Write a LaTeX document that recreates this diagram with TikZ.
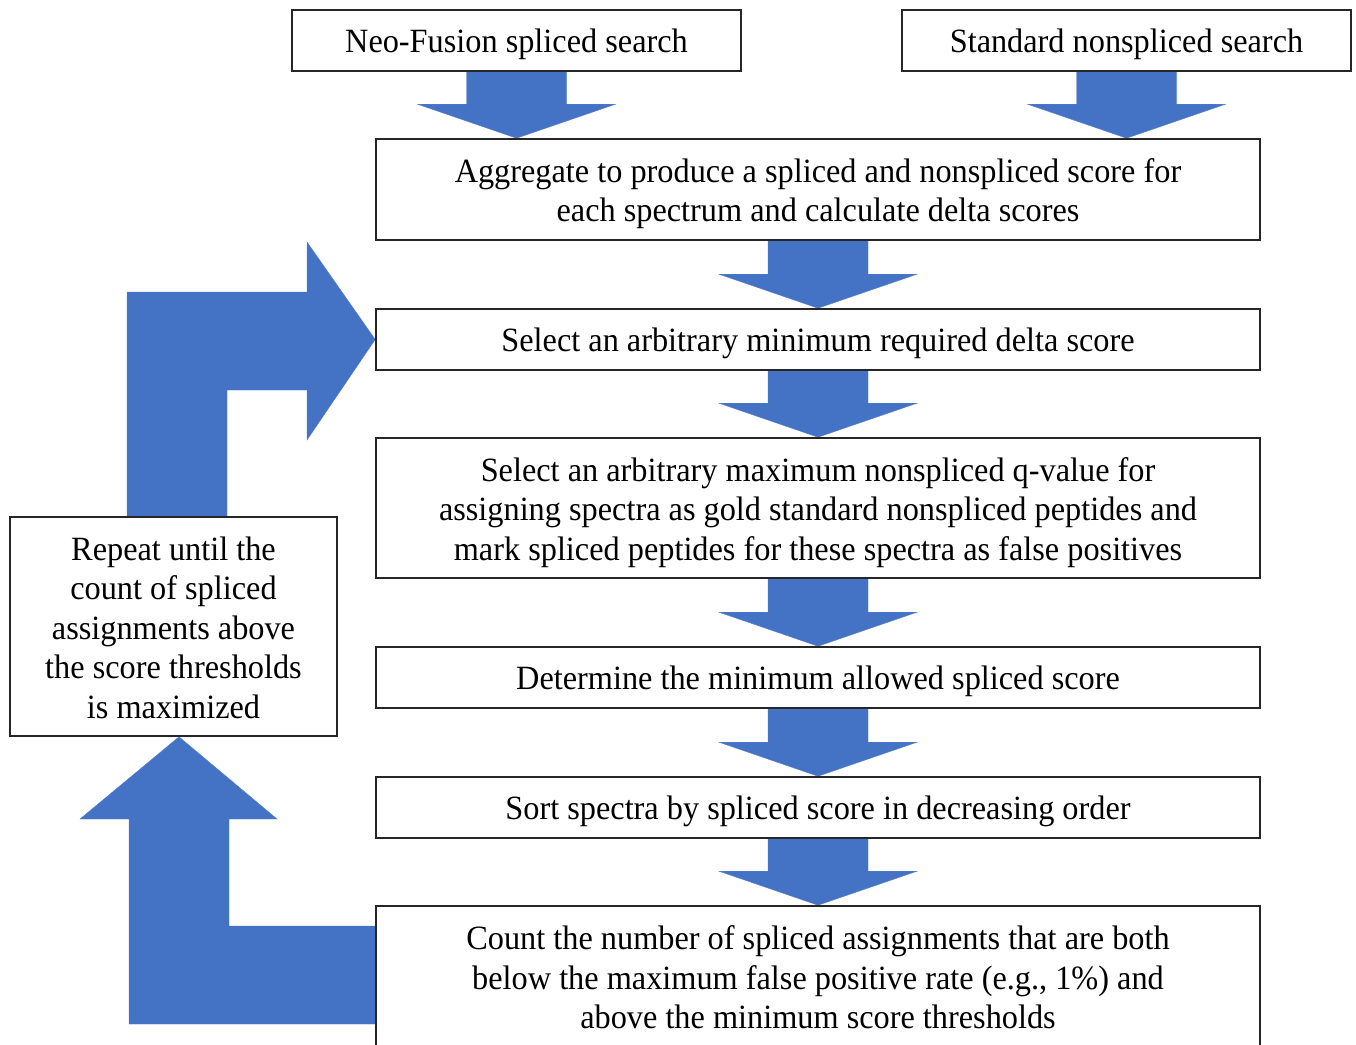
\documentclass[tikz,border=0pt]{standalone}
\usepackage{fontspec}
\setmainfont{Liberation Serif}[FakeStretch=0.95]
\usetikzlibrary{calc}
\definecolor{arrowblue}{HTML}{4472C4}
\pgfdeclarelayer{background}
\pgfsetlayers{background,main}
\tikzset{
  frame/.style={draw=black!85, line width=1.6pt, fill=white, inner sep=0pt},
  label text/.style={align=center, inner sep=0pt, font=\fontsize{34}{39.5}\selectfont},
  arr/.style={fill=arrowblue, draw=arrowblue!90, line width=0.4pt},
}
% #1 name, #2 center, #3 width, #4 height, #5 text shift, #6 text
\newcommand\flowbox[6]{%
  \node[frame, minimum width=#3, minimum height=#4] (#1) at (#2) {};
  \node[label text] (#1-t) at ($(#1.center)+(0,-#5)$) {#6};
}
\newcommand\blockdown[2]{%
  \path (#1.south) coordinate (s) (#1.south |- #2.north) coordinate (t);
  \filldraw[arr] ($(s)+(-50,0)$) -- ($(t)+(-50,34)$) -- ($(t)+(-99,34)$) -- (t)
    -- ($(t)+(99,34)$) -- ($(t)+(50,34)$) -- ($(s)+(50,0)$) -- cycle;
}
\begin{document}
\begin{tikzpicture}[x=1pt,y=1pt]
\clip (0,0) rectangle (1356,-1044);
\begin{pgfonlayer}{background}
\fill[white] (0,0) rectangle (1356,-1044);
\end{pgfonlayer}

\flowbox{neo}{516.5,-40.5}{449pt}{61pt}{4}{Neo-Fusion spliced search}
\flowbox{std}{1126.5,-40.5}{449pt}{61pt}{4}{Standard nonspliced search}
\flowbox{agg}{818,-189.5}{884pt}{101pt}{4}{Aggregate to produce a spliced and nonspliced score for\\each spectrum and calculate delta scores}
\flowbox{sel}{818,-339.5}{884pt}{61pt}{4}{Select an arbitrary minimum required delta score}
\flowbox{qv}{818,-508}{884pt}{140pt}{4.5}{Select an arbitrary maximum nonspliced q-value for\\assigning spectra as gold standard nonspliced peptides and\\mark spliced peptides for these spectra as false positives}
\flowbox{det}{818,-677.5}{884pt}{61pt}{4}{Determine the minimum allowed spliced score}
\flowbox{sort}{818,-807.5}{884pt}{61pt}{4}{Sort spectra by spliced score in decreasing order}
\flowbox{cnt}{818,-976}{884pt}{140pt}{1.5}{Count the number of spliced assignments that are both\\below the maximum false positive rate (e.g., 1\%) and\\above the minimum score thresholds}
\flowbox{rep}{173.5,-626.5}{327pt}{219pt}{1}{Repeat until the\\count of spliced\\assignments above\\the score thresholds\\is maximized}

\begin{pgfonlayer}{background}
\blockdown{neo}{agg}
\blockdown{std}{agg}
\blockdown{agg}{sel}
\blockdown{sel}{qv}
\blockdown{qv}{det}
\blockdown{det}{sort}
\blockdown{sort}{cnt}

% loop back: from count box up to repeat box
\filldraw[arr] (cnt.west |- 0,-926) -- (229,-926) -- (229,-819) -- (277,-819)
  -- (rep.south -| 179,0) -- (80,-819) -- (129,-819) -- (129,-1024) -- (cnt.west |- 0,-1024) -- cycle;

% loop: from repeat box to select-delta box
\filldraw[arr] (rep.north -| 127,0) -- (127,-292) -- (307,-292) -- (307,-242) -- (sel.west)
  -- (307,-440) -- (307,-390) -- (227,-390) -- (rep.north -| 227,0) -- cycle;
\end{pgfonlayer}
\end{tikzpicture}
\end{document}
